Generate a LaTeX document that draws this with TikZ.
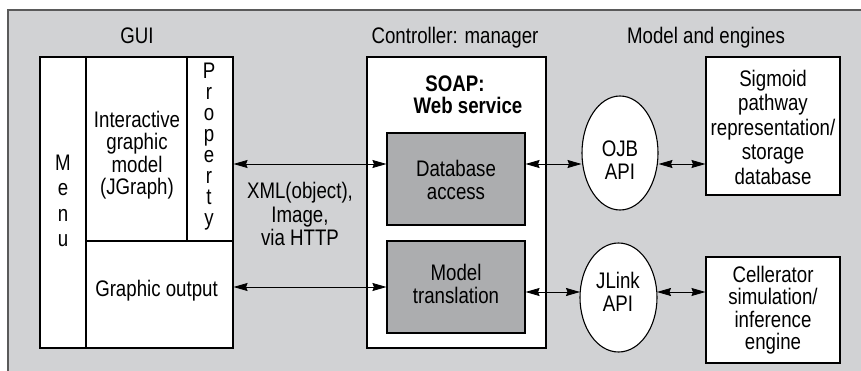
\documentclass[tikz,border=0pt]{standalone}
\usepackage{fontspec}
\setmainfont[FakeStretch=0.83]{Liberation Sans}
\usetikzlibrary{arrows.meta}
\definecolor{bgfill}{HTML}{D1D2D4}
\definecolor{bgedge}{HTML}{5A5A5A}
\definecolor{darkbox}{HTML}{ACADAF}
\begin{document}
\begin{tikzpicture}[x=1pt,y=-1pt,
  txt/.style={font=\fontsize{22.5}{22.5}\selectfont, align=center, inner sep=0pt},
  box/.style={draw, line width=1.1pt, fill=white, inner sep=0pt},
  gbox/.style={box, fill=darkbox},
  dbl/.style={line width=0.8pt, {Stealth[length=14pt,width=8pt,inset=1.5pt]}-{Stealth[length=14pt,width=8pt,inset=1.5pt]}}
]
\useasboundingbox (0,0) rectangle (861,371);
\fill[bgfill] (8,10) rectangle (861,371);
\draw[bgedge, line width=1.6pt] (8,371) -- (8,10) -- (861,10);

% headings
\node[txt, anchor=base] (hgui) at (137,44) {GUI};
\node[txt, anchor=base] (hctl) at (455,44) {Controller: manager};
\node[txt, anchor=base] (hmod) at (706,44) {Model and engines};

% GUI
\node[box, minimum width=46pt, minimum height=291pt] (menu) at (63,202.5) {};
\node[txt, font=\fontsize{22.5}{25.5}\selectfont] (menut) at (63,201) {M\\e\\n\\u};
\node[box, minimum width=101pt, minimum height=184pt] (inter) at (136.5,149) {};
\node[txt] (intert) at (137,155) {Interactive\\graphic\\model\\(JGraph)};
\node[box, minimum width=46pt, minimum height=184pt] (prop) at (210,149) {};
\node[txt, font=\fontsize{22.5}{21}\selectfont] (propt) at (209,146.5) {P\\r\\o\\p\\e\\r\\t\\y};
\node[box, minimum width=147pt, minimum height=107pt] (gout) at (159.5,294.5) {};
\node[txt] (goutt) at (156.5,291) {Graphic output};

% Controller
\node[box, minimum width=179pt, minimum height=291pt] (ctl) at (456.5,202.5) {};
\node[txt, font=\bfseries\fontsize{22.5}{22.5}\selectfont] (soap) at (468,95) {SOAP:\hspace*{26pt}\\Web service};
\node[gbox, minimum width=138pt, minimum height=92pt] (dba) at (456,179) {};
\node[txt] (dbat) at (456,180) {Database\\access};
\node[gbox, minimum width=138pt, minimum height=92pt] (mtr) at (456,287) {};
\node[txt] (mtrt) at (456,284) {Model\\translation};

% XML label
\node[txt, font=\fontsize{22.5}{23.5}\selectfont] (xml) at (300,214) {XML(object),\\Image,\\via HTTP};

% ellipses
\draw[line width=1.1pt, fill=white] (620,153) ellipse (38pt and 57pt);
\coordinate (ojb) at (620,153);
\node[txt] (ojbt) at (620,160) {OJB\\API};
\draw[line width=1.1pt, fill=white] (618.5,297.5) ellipse (38.5pt and 54.5pt);
\coordinate (jlk) at (618.5,297.5);
\node[txt] (jlkt) at (618,292) {JLink\\API};

% right boxes
\node[box, minimum width=134pt, minimum height=138pt] (sig) at (773,126) {};
\node[txt, font=\fontsize{22.5}{24.5}\selectfont] (sigt) at (773,127) {Sigmoid\\pathway\\representation/\\storage\\database};
\node[box, minimum width=134pt, minimum height=106pt] (cel) at (773,310) {};
\node[txt] (celt) at (773,310) {Cellerator\\simulation/\\inference\\engine};

% connectors
\draw[dbl] (prop.east |- 0,164) -- (dba.west |- 0,164);
\draw[dbl] (gout.east |- 0,287) -- (mtr.west |- 0,287);
\draw[dbl] (dba.east |- 0,164) -- (581.5,164);
\draw[dbl] (658.5,164) -- (sig.west |- 0,164);
\draw[dbl] (mtr.east |- 0,292) -- (580,292);
\draw[dbl] (657,292) -- (cel.west |- 0,292);
\end{tikzpicture}
\end{document}
